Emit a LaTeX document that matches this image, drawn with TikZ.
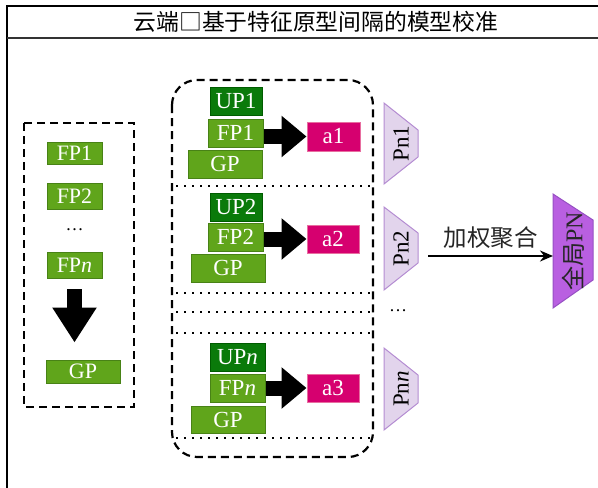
\documentclass[tikz,border=0pt]{standalone}
\usepackage{fontspec}
\setmainfont{Liberation Serif}
\newfontfamily\cjk{Noto Sans CJK SC}
\usetikzlibrary{arrows.meta}
\definecolor{lg}{RGB}{96,165,27}
\definecolor{lgb}{RGB}{72,130,22}
\definecolor{dg}{RGB}{10,122,10}
\definecolor{dgb}{RGB}{0,92,0}
\definecolor{mg}{RGB}{214,0,111}
\definecolor{mgb}{RGB}{232,110,160}
\definecolor{lav}{RGB}{226,212,236}
\definecolor{lavb}{RGB}{180,140,210}
\definecolor{pur}{RGB}{185,95,225}
\definecolor{purb}{RGB}{150,80,195}
\begin{document}
\begin{tikzpicture}[x=1pt,y=-1pt,
  box/.style={draw, line width=1pt, inner sep=0pt, text=white, font=\fontsize{23}{23}\selectfont},
  lbox/.style={lgbox, font=\fontsize{22}{22}\selectfont},
  lgbox/.style={box, fill=lg, draw=lgb},
  dgbox/.style={box, fill=dg, draw=dgb},
  abox/.style={box, fill=mg, draw=mgb},
  blockarrow/.style={line width=15pt, -{Triangle[length=25pt,width=40pt]}},
  downarrow/.style={line width=15pt, -{Triangle[length=35pt,width=42pt]}},
  dashframe/.style={line width=2.2pt, dash pattern=on 8pt off 5pt},
  dotline/.style={line width=2.4pt, dash pattern=on 2.4pt off 5.6pt},
  trap/.style={fill=lav, draw=lavb, line width=1pt},
  rlabel/.style={rotate=90, font=\fontsize{23}{23}\selectfont, inner sep=0pt}
]
\useasboundingbox (0,0) rectangle (598,488);
% frame
\draw[line width=1.6pt] (598,6) -- (7,6) -- (7,488);
\draw[line width=1.6pt, black!80] (7,38) -- (598,38);
\node[font=\cjk\fontsize{22.8}{22.8}\selectfont, inner sep=0pt] (title) at (316,22) {云端□基于特征原型间隔的模型校准};

% left column
\draw[dashframe] (24,123) rectangle (134,407);
\node[lbox, minimum width=55pt, minimum height=22pt] (lfp1) at (74.5,153) {FP1};
\node[lbox, minimum width=55pt, minimum height=26pt] (lfp2) at (74.5,196.5) {FP2};
\node[font=\fontsize{18}{18}\selectfont, inner sep=0pt] (ldots) at (74.5,230) {\dots};
\node[lbox, minimum width=55pt, minimum height=26pt] (lfpn) at (74.5,265.5) {FP\textit{n}};
\node[lbox, minimum width=74pt, minimum height=23pt] (lgp) at (83,371.5) {GP};
\draw[downarrow, shorten <=10pt, shorten >=17pt] (lfpn.south) -- (lfpn.south |- lgp.north);

% middle group box
\draw[dashframe, rounded corners=25pt] (172,80) rectangle (373,457);
\foreach \yy in {186,293,312,333,438} \draw[dotline] (176,\yy) -- (370,\yy);

% group 1
\node[dgbox, minimum width=52pt, minimum height=28pt] (up1) at (236,101) {UP1};
\node[lgbox, minimum width=55pt, minimum height=28pt] (fp1) at (235.5,133) {FP1};
\node[lgbox, minimum width=74pt, minimum height=28pt] (gp1) at (225,164) {GP};
\node[abox, minimum width=53pt, minimum height=29pt] (a1) at (333.5,136.5) {a1};
\draw[blockarrow] (fp1.east |- a1.west) -- (a1.west);

% group 2
\node[dgbox, minimum width=52pt, minimum height=28pt] (up2) at (236,207) {UP2};
\node[lgbox, minimum width=55pt, minimum height=28pt] (fp2) at (235.5,237) {FP2};
\node[lgbox, minimum width=74pt, minimum height=28pt] (gp2) at (228,268) {GP};
\node[abox, minimum width=52pt, minimum height=28pt] (a2) at (333,239) {a2};
\draw[blockarrow] (fp2.east |- a2.west) -- (a2.west);

% group 3
\node[dgbox, minimum width=55pt, minimum height=28pt] (upn) at (237.5,357) {UP\textit{n}};
\node[lgbox, minimum width=55pt, minimum height=28pt] (fpn) at (237.5,388) {FP\textit{n}};
\node[lgbox, minimum width=74pt, minimum height=27pt] (gp3) at (228,419.5) {GP};
\node[abox, minimum width=52pt, minimum height=28pt] (a3) at (333,388) {a3};
\draw[blockarrow] (fpn.east |- a3.west) -- (a3.west);

% trapezoids
\draw[trap] (384,103) -- (418,130) -- (418,157) -- (384,184) -- cycle;
\node[rlabel] (pn1) at (401,143.5) {Pn1};
\draw[trap] (384,207) -- (418,233) -- (418,263) -- (384,290) -- cycle;
\node[rlabel] (pn2) at (401,248.5) {Pn2};
\draw[trap] (384,348) -- (418,375) -- (418,403) -- (384,430) -- cycle;
\node[rlabel] (pnn) at (401,389) {Pn\textit{n}};
\node[font=\fontsize{18}{18}\selectfont, inner sep=0pt] (rdots) at (398,311) {\dots};

% global PN
\draw[fill=pur, draw=purb, line width=1pt] (553,194) -- (593,220) -- (593,280) -- (553,308) -- cycle;
\node[rlabel, font=\fontsize{24}{24}\selectfont, text=black!85] (gpn) at (573,251) {{\cjk 全局}PN};
\coordinate (aggs) at (428,256);
\coordinate (gpw) at (553,256);
\draw[line width=1.8pt, -{Stealth[length=13pt,width=11pt]}] (aggs) -- (gpw)
  node[midway, above=6pt, font=\cjk\fontsize{23.5}{23.5}\selectfont, inner sep=0pt, text=black!85] (agg) {加权聚合};
\end{tikzpicture}
\end{document}
